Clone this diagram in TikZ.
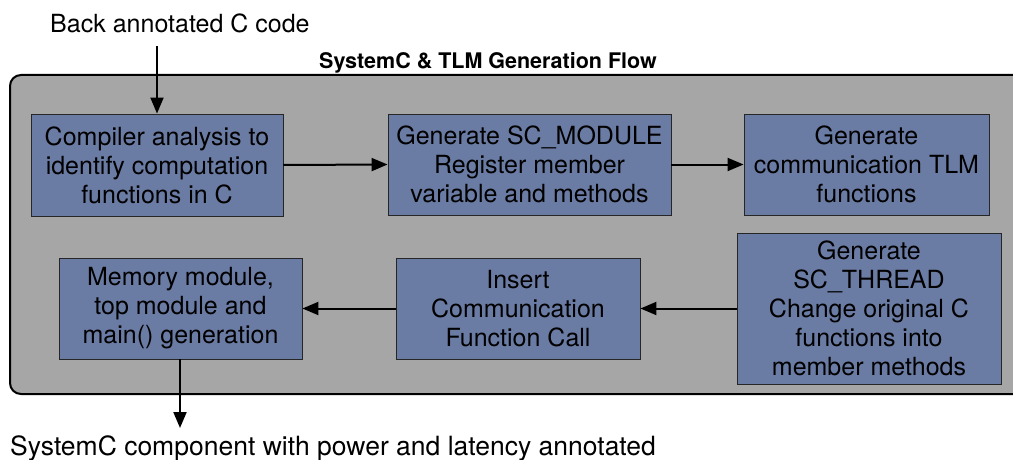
\documentclass[tikz,border=0pt]{standalone}
\usepackage{fontspec}
\setmainfont{TeX Gyre Heros}
\usetikzlibrary{arrows.meta}
\definecolor{stepblue}{RGB}{106,123,164}
\definecolor{flowgray}{RGB}{166,166,166}
\tikzset{
  stepbox/.style={draw=black!85, line width=0.9pt, fill=stepblue, align=center,
    inner sep=0pt, font=\fontsize{25}{29}\selectfont},
  flow/.style={line width=2pt, -{Triangle[length=16pt,width=13pt]}},
}
\begin{document}
\begin{tikzpicture}[x=1pt,y=-1pt]
\useasboundingbox (0,0) rectangle (1013,460);
\clip (0,0) rectangle (1013,460);
% container of the generation flow
\draw[line width=2pt, fill=flowgray, rounded corners=11pt] (10,75) rectangle (1040,394);
\node[font=\bfseries\fontsize{21.5}{24}\selectfont, anchor=base] (title) at (488,69) {SystemC \& TLM Generation Flow};
% flow steps
\node[stepbox, minimum width=252, minimum height=102] (s1) at (157,165) {Compiler analysis to\\identify computation\\functions in C};
\node[stepbox, minimum width=283, minimum height=101] (s2) at (529.5,164.5) {Generate SC\_MODULE\\Register member\\variable and methods};
\node[stepbox, minimum width=245, minimum height=101] (s3) at (866.5,164.5) {Generate\\communication TLM\\functions};
\node[stepbox, minimum width=264, minimum height=151] (s4) at (869,308.5) {Generate\\SC\_THREAD\\Change original C\\functions into\\member methods};
\node[stepbox, minimum width=244, minimum height=101] (s5) at (518,308.5) {Insert\\Communication\\Function Call};
\node[stepbox, minimum width=243, minimum height=101] (s6) at (180.5,308.5) {Memory module,\\top module and\\main() generation};
% input and output
\node[font=\fontsize{25}{29}\selectfont, anchor=base west, inner sep=0pt] (in) at (50,33) {Back annotated C code};
\node[font=\fontsize{26.5}{30}\selectfont, anchor=base west, inner sep=0pt] (out) at (10,455) {SystemC component with power and latency annotated};
\coordinate (inend) at (157,46);
\coordinate (outend) at (180,428);
% connectors
\draw[flow] (inend) -- (s1.north);
\draw[flow] (s1.east) -- (s2.west);
\draw[flow] (s2.east) -- (s3.west);
\draw[flow] (s4.west) -- (s5.east);
\draw[flow] (s5.west) -- (s6.east);
\draw[flow] (s6.south -| outend) -- (outend);
\end{tikzpicture}
\end{document}
